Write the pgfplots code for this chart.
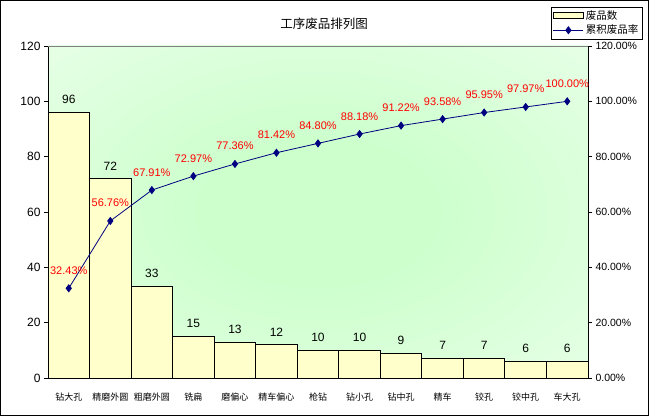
\documentclass[border=0pt]{standalone}
\usepackage{fontspec}
\setmainfont{Liberation Sans}
\newfontfamily\cjk{Noto Sans CJK SC}
\usepackage{pgfplots}
\pgfplotsset{compat=1.18}
\pgfplotsset{/pgf/number format/assume math mode=true}
\definecolor{barfill}{HTML}{FFFFCC}
\definecolor{linecol}{HTML}{000080}
\pgfplotsset{
  barlegend/.style={legend image code/.code={\draw[##1] (0pt,-3pt) rectangle (30pt,3pt);}},
  linelegend/.style={legend image code/.code={\draw[mark repeat=2, mark phase=2, ##1] plot coordinates {(0pt,0pt) (15pt,0pt) (30pt,0pt)};}},
}
\pgfdeclareradialshading{excelbg}{\pgfpoint{0bp}{0bp}}{rgb(0bp)=(0.8,1,0.8); rgb(10bp)=(0.8,1,0.8); rgb(60bp)=(1,1,1); rgb(75bp)=(1,1,1)}
\begin{document}
\begin{tikzpicture}
\useasboundingbox (0,0) rectangle (649pt,416pt);
\draw[line width=1pt] (0.5pt,0.5pt) rectangle (648.5pt,415.5pt);
\node[font=\cjk\fontsize{12.5}{14}\selectfont] at (324pt,392pt) {工序废品排列图};
\begin{axis}[
  at={(48pt,38pt)}, anchor=south west, scale only axis, width=540pt, height=332pt,
  xmin=-0.5, xmax=12.5, ymin=0, ymax=120,
  axis x line*=bottom, axis y line*=left, axis line style={-, black, line width=0.8pt},
  axis background/.style={shading=excelbg},
  ytick={0,20,...,120}, tick align=outside, major tick length=4pt,
  tick style={black, line width=0.8pt},
  xtick={0,...,12},
  xticklabels={钻大孔,精磨外圆,粗磨外圆,铣扁,磨偏心,精车偏心,枪钻,钻小孔,钻中孔,精车,铰孔,铰中孔,车大孔},
  x tick style={draw=none},
  xticklabel style={font=\cjk\fontsize{9}{9}\selectfont, yshift=-7pt},
  yticklabel style={font=\fontsize{12}{14}\selectfont},
  ybar, bar width=1,
  nodes near coords,
  nodes near coords style={font=\fontsize{12}{14}\selectfont, yshift=5pt},
  clip=false,
]
\addplot[fill=barfill, draw=black, line width=0.9pt] coordinates {
(0,96) (1,72) (2,33) (3,15) (4,13) (5,12) (6,10) (7,10) (8,9) (9,7) (10,7) (11,6) (12,6)};
\draw[gray] (rel axis cs:0,1) -- (rel axis cs:1,1);
\end{axis}
\begin{axis}[
  at={(48pt,38pt)}, anchor=south west, scale only axis, width=540pt, height=332pt,
  xmin=-0.5, xmax=12.5, ymin=0, ymax=120,
  axis x line=none, axis y line*=right, axis line style={-, black, line width=0.8pt},
  ytick={0,20,...,120},
  yticklabels={0.00\%,20.00\%,40.00\%,60.00\%,80.00\%,100.00\%,120.00\%},
  tick align=outside, major tick length=4pt,
  tick style={black, line width=0.8pt},
  yticklabel style={font=\fontsize{10.5}{12}\selectfont},
  clip=false,
  legend style={at={(1.1,1.1175)}, anchor=north east, draw=black, fill=white,
    font=\cjk\fontsize{10.5}{12}\selectfont, inner sep=1.5pt, row sep=0pt,
    cells={anchor=west}},
]
\addlegendimage{fill=barfill, draw=black, line width=0.8pt, barlegend}
\addlegendentry{废品数}
\addplot[linecol, line width=0.8pt, mark=diamond*, mark size=3.5pt,
  mark options={fill=linecol, draw=linecol},
  nodes near coords={\pgfmathprintnumber[fixed,fixed zerofill,precision=2]{\pgfplotspointmeta}\%},
  nodes near coords style={text=red, font=\fontsize{11}{12}\selectfont, anchor=base, yshift=14pt},
  linelegend
] coordinates {
(0,32.43) (1,56.76) (2,67.91) (3,72.97) (4,77.36) (5,81.42) (6,84.80) (7,88.18) (8,91.22) (9,93.58) (10,95.95) (11,97.97) (12,100.00)};
\addlegendentry{累积废品率}
\end{axis}
\end{tikzpicture}
\end{document}
